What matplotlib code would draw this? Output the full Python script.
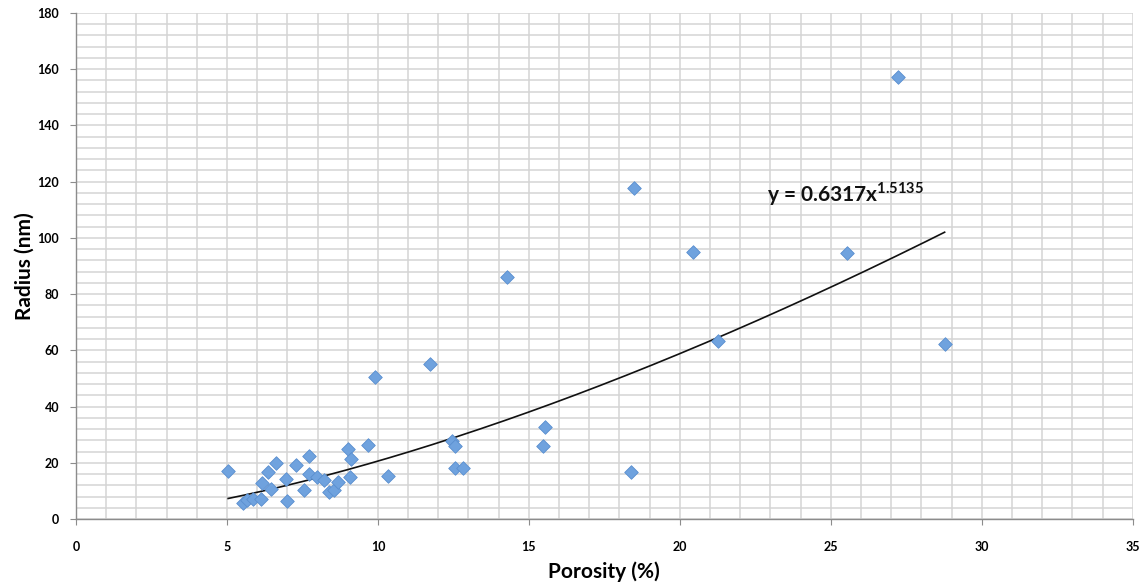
import numpy as np
import matplotlib
matplotlib.use("Agg")
import matplotlib.pyplot as plt

porosity = [5.04, 5.52, 5.65, 5.87, 6.12, 6.15, 6.37, 6.46, 6.64, 6.95, 6.98,
            7.28, 7.56, 7.73, 7.73, 7.97, 8.23, 8.39, 8.54, 8.68, 9.02, 9.12,
            9.07, 9.68, 10.34, 9.90, 11.72, 12.46, 12.55, 12.55, 12.83, 14.28,
            15.53, 15.47, 18.49, 20.44, 21.27, 25.54, 27.24, 18.39, 28.77]
radius = [17.2, 5.8, 6.8, 7.2, 7.2, 12.7, 16.8, 10.6, 19.8, 14.3, 6.4,
          19.2, 10.3, 22.5, 16.0, 14.8, 13.9, 9.7, 10.3, 13.0, 24.9, 21.5,
          15.1, 26.3, 15.3, 50.4, 55.1, 27.9, 26.0, 18.1, 18.1, 86.0,
          32.8, 26.1, 117.9, 95.1, 63.3, 94.7, 157.2, 16.6, 62.3]
fit_a = 0.6317
fit_b = 1.5135
x_ticks = [0, 5, 10, 15, 20, 25, 30, 35]
y_ticks = [0, 20, 40, 60, 80, 100, 120, 140, 160, 180]

plt.rcParams['font.family'] = ['Lato', 'DejaVu Sans']

fig = plt.figure(figsize=(11.43, 5.87), dpi=100)
ax = fig.add_axes([0.0665, 0.1158, 0.9245, 0.8622])

ax.set_xlim(0, 35)
ax.set_ylim(0, 180)
ax.set_xticks(x_ticks)
ax.set_yticks(y_ticks)
ax.set_xticks(np.arange(0, 36, 1), minor=True)
ax.set_yticks(np.arange(0, 181, 4), minor=True)
ax.grid(True, which='both', color='#d4d4d4', linewidth=1.1)
ax.set_axisbelow(True)

for s in ['top', 'right']:
    ax.spines[s].set_visible(False)
for s in ['left', 'bottom']:
    ax.spines[s].set_color('#8c8c8c')
    ax.spines[s].set_linewidth(1.0)

ax.tick_params(axis='both', which='major', length=4, color='#8c8c8c',
               labelsize=9, pad=4)
ax.tick_params(axis='both', which='minor', length=0)
for lab in ax.get_xticklabels() + ax.get_yticklabels():
    lab.set_fontweight('bold')
ax.tick_params(axis='x', pad=12)
ax.tick_params(axis='y', pad=8)

px = np.array(porosity)
xs = np.linspace(px.min(), px.max(), 300)
ax.plot(xs, fit_a * xs ** fit_b, color='#111111', linewidth=1.2, zorder=3)

ax.scatter(porosity, radius, marker='D', s=48, color='#6fa2de',
           edgecolors='#5a8fcf', linewidths=0.6, zorder=4)

ax.text(22.9, 115.5, r'y = 0.6317x$^{\mathregular{1.5135}}$', fontsize=15,
        fontweight='bold', ha='left', va='center', color='#111111')

ax.set_xlabel('Porosity (%)', fontsize=15, fontweight='bold', labelpad=6)
ax.set_ylabel('Radius (nm)', fontsize=15, fontweight='bold', labelpad=2)

fig.savefig('out.png', dpi=100)
